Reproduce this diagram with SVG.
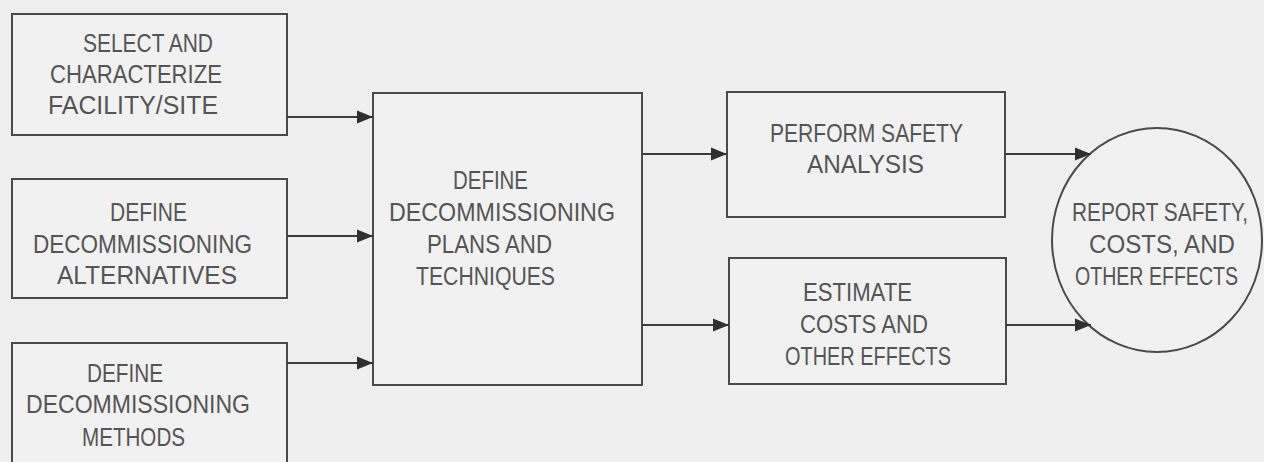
<svg xmlns="http://www.w3.org/2000/svg" width="1264" height="462" viewBox="0 0 1264 462">
  <style>
    .bg { fill: #efefef; }
    .box { fill: #f1f1f1; stroke: #4a4a4a; stroke-width: 2; }
    .lbl { font-family: "Liberation Sans", Arial, sans-serif; font-size: 25px; fill: #555555; }
    .edge { stroke: #3c3c3c; stroke-width: 2.2; fill: none; marker-end: url(#arrow); }
  </style>
  <defs>
    <marker id="arrow" markerUnits="userSpaceOnUse" markerWidth="18" markerHeight="14" refX="16" refY="7" orient="auto">
      <path d="M0,0.5 L16,7 L0,13.5 Z" fill="#2f2f2f"/>
    </marker>
  </defs>

  <rect class="bg" x="0" y="0" width="1264" height="462"/>

  <!-- inputs -->
  <g id="select-facility">
    <rect class="box" x="12" y="14" width="275" height="121"/>
    <text class="lbl" x="83" y="52" textLength="130" lengthAdjust="spacingAndGlyphs">SELECT AND</text>
    <text class="lbl" x="50" y="83" textLength="172" lengthAdjust="spacingAndGlyphs">CHARACTERIZE</text>
    <text class="lbl" x="48" y="114" textLength="170" lengthAdjust="spacingAndGlyphs">FACILITY/SITE</text>
  </g>

  <g id="define-alternatives">
    <rect class="box" x="12" y="179" width="275" height="119"/>
    <text class="lbl" x="110" y="221" textLength="77" lengthAdjust="spacingAndGlyphs">DEFINE</text>
    <text class="lbl" x="33" y="253" textLength="219" lengthAdjust="spacingAndGlyphs">DECOMMISSIONING</text>
    <text class="lbl" x="57" y="284" textLength="180" lengthAdjust="spacingAndGlyphs">ALTERNATIVES</text>
  </g>

  <g id="define-methods">
    <rect class="box" x="12" y="343" width="275" height="130"/>
    <text class="lbl" x="87" y="382" textLength="76" lengthAdjust="spacingAndGlyphs">DEFINE</text>
    <text class="lbl" x="26" y="413" textLength="224" lengthAdjust="spacingAndGlyphs">DECOMMISSIONING</text>
    <text class="lbl" x="82" y="446" textLength="103" lengthAdjust="spacingAndGlyphs">METHODS</text>
  </g>

  <!-- central planning step -->
  <g id="define-plans">
    <rect class="box" x="373" y="93" width="269" height="292"/>
    <text class="lbl" x="453" y="189" textLength="75" lengthAdjust="spacingAndGlyphs">DEFINE</text>
    <text class="lbl" x="389" y="221" textLength="226" lengthAdjust="spacingAndGlyphs">DECOMMISSIONING</text>
    <text class="lbl" x="427" y="253" textLength="125" lengthAdjust="spacingAndGlyphs">PLANS AND</text>
    <text class="lbl" x="416" y="285" textLength="139" lengthAdjust="spacingAndGlyphs">TECHNIQUES</text>
  </g>

  <!-- analyses -->
  <g id="safety-analysis">
    <rect class="box" x="727" y="92" width="278" height="125"/>
    <text class="lbl" x="770" y="142" textLength="193" lengthAdjust="spacingAndGlyphs">PERFORM SAFETY</text>
    <text class="lbl" x="807" y="173" textLength="117" lengthAdjust="spacingAndGlyphs">ANALYSIS</text>
  </g>

  <g id="estimate-costs">
    <rect class="box" x="729" y="258" width="277" height="126"/>
    <text class="lbl" x="803" y="301" textLength="109" lengthAdjust="spacingAndGlyphs">ESTIMATE</text>
    <text class="lbl" x="800" y="333" textLength="128" lengthAdjust="spacingAndGlyphs">COSTS AND</text>
    <text class="lbl" x="785" y="365" textLength="166" lengthAdjust="spacingAndGlyphs">OTHER EFFECTS</text>
  </g>

  <!-- final report -->
  <g id="report">
    <ellipse class="box" cx="1157" cy="240" rx="105" ry="112"/>
    <text class="lbl" x="1072" y="221" textLength="176" lengthAdjust="spacingAndGlyphs">REPORT SAFETY,</text>
    <text class="lbl" x="1089" y="253" textLength="146" lengthAdjust="spacingAndGlyphs">COSTS, AND</text>
    <text class="lbl" x="1075" y="285" textLength="163" lengthAdjust="spacingAndGlyphs">OTHER EFFECTS</text>
  </g>

  <g id="connectors">
    <line class="edge" x1="287" y1="117" x2="373" y2="117"/>
    <line class="edge" x1="287" y1="236" x2="373" y2="236"/>
    <line class="edge" x1="287" y1="363" x2="373" y2="363"/>
    <line class="edge" x1="642" y1="154" x2="727" y2="154"/>
    <line class="edge" x1="642" y1="325" x2="729" y2="325"/>
    <line class="edge" x1="1005" y1="154" x2="1091" y2="154"/>
    <line class="edge" x1="1006" y1="325" x2="1091" y2="325"/>
  </g>
</svg>
